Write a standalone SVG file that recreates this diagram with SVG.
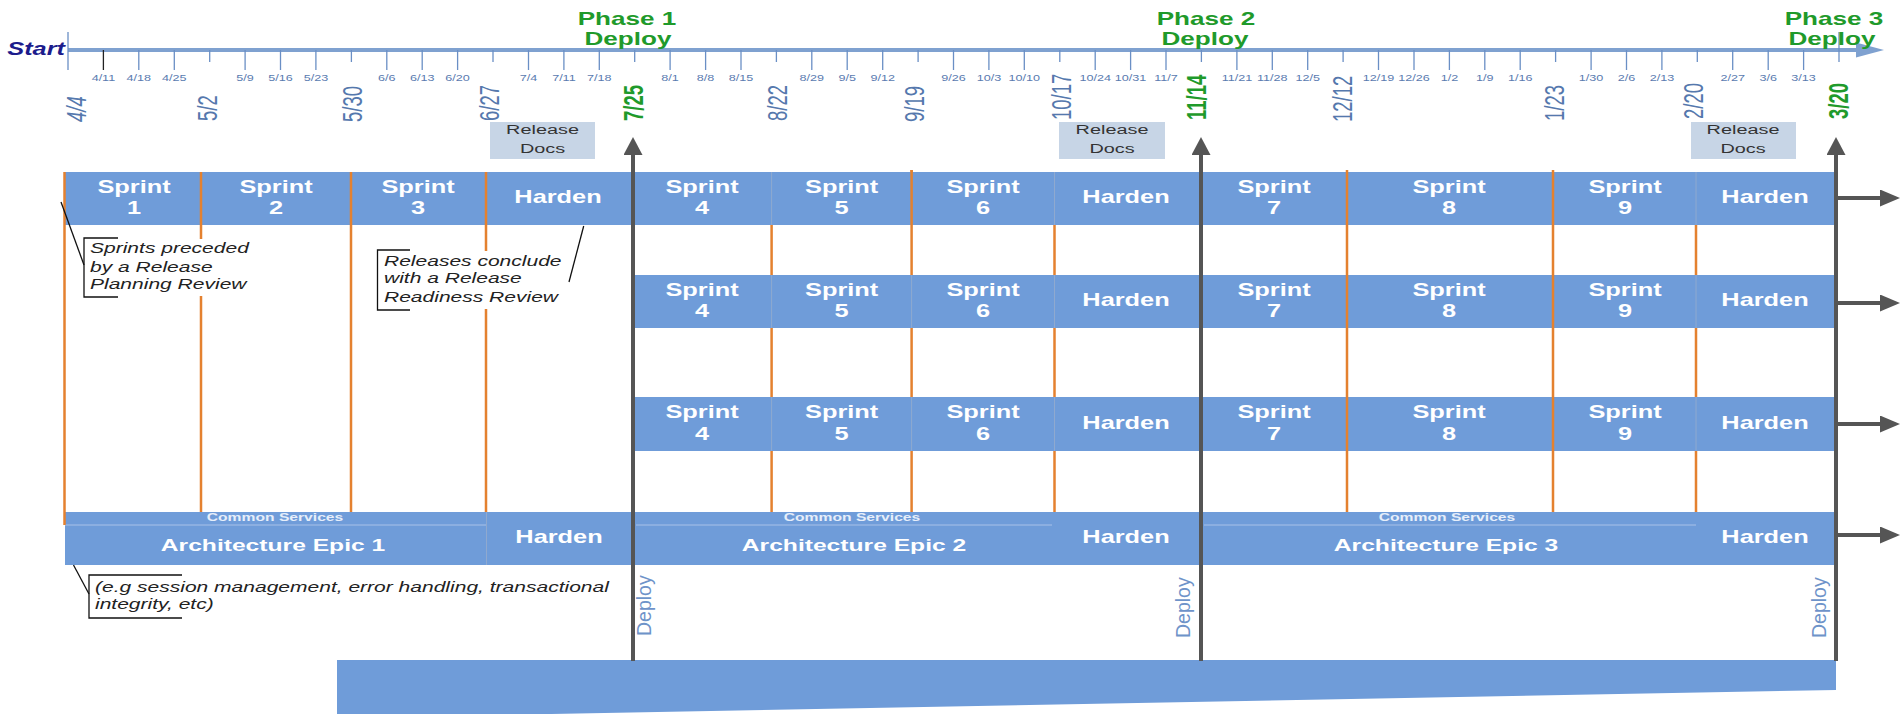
<svg xmlns="http://www.w3.org/2000/svg" width="1901" height="714" viewBox="0 0 1901 714">
<style>
text{font-family:"Liberation Sans",Arial,sans-serif}
.wk{font-size:8.4px;fill:#5a7bb0;text-anchor:middle}
.big{font-size:18.5px;fill:#5578ad}
.bigg{font-size:18.5px;fill:#1f9a2b;font-weight:bold}
.ph{font-size:18px;fill:#1f9a2b;font-weight:bold;text-anchor:middle}
.start{font-size:17.5px;fill:#1c1c8c;font-weight:bold;font-style:italic;text-anchor:end}
.sp{font-size:17.5px;fill:#fff;font-weight:bold;text-anchor:middle}
.ae{font-size:17px;fill:#fff;font-weight:bold;text-anchor:middle}
.cs{font-size:10.8px;fill:#e6eefa;font-weight:bold;text-anchor:middle}
.rd{font-size:13.7px;fill:#333;text-anchor:middle}
.co{font-size:14.5px;fill:#222;font-style:italic}
.dep{font-size:19.5px;fill:#6e93c9}
.row{fill:#6f9cd9}
.rel{fill:#c7d5e6}
.org{stroke:#e4812f;stroke-width:2.5}
.div{stroke:#8fa9cf;stroke-width:1}
.csl{stroke:#a9c1e8;stroke-width:1}
.tk{stroke:#6a8fc5;stroke-width:1.3}
.arr{stroke:#555;stroke-width:4;fill:none}
.cl{stroke:#111;stroke-width:1.3;fill:none}
.cbg{fill:#fff}
</style>
<defs>
<marker id="ahV" markerUnits="userSpaceOnUse" markerWidth="18" markerHeight="19" refX="0" refY="9.5" orient="auto" viewBox="0 0 18 19"><path d="M0,0 L18,9.5 L0,19 Z" fill="#555"/></marker>
<marker id="ahH" markerUnits="userSpaceOnUse" markerWidth="20" markerHeight="17" refX="0" refY="8.5" orient="auto" viewBox="0 0 20 17"><path d="M0,0 L20,8.5 L0,17 Z" fill="#555"/></marker>
<marker id="ahT" markerUnits="userSpaceOnUse" markerWidth="28" markerHeight="15" refX="0" refY="7.5" orient="auto" viewBox="0 0 28 15"><path d="M0,0 L28,7.5 L0,15 Z" fill="#7fa1d0"/></marker>
</defs>

<g id="timeline">
<line x1="68" y1="50" x2="1856" y2="50" stroke="#7fa1d0" stroke-width="4" marker-end="url(#ahT)"/>
<text class="start" transform="translate(65,55) scale(1.45,1)">Start</text>
<g class="tk">
<line x1="68" y1="32" x2="68" y2="70"/>
<line x1="103.4" y1="50" x2="103.4" y2="70" stroke="#222"/>
<line x1="138.8" y1="50" x2="138.8" y2="70"/>
<line x1="174.3" y1="50" x2="174.3" y2="70"/>
<line x1="209.7" y1="50" x2="209.7" y2="62"/>
<line x1="245.1" y1="50" x2="245.1" y2="70"/>
<line x1="280.5" y1="50" x2="280.5" y2="70"/>
<line x1="315.9" y1="50" x2="315.9" y2="70"/>
<line x1="351.4" y1="50" x2="351.4" y2="62"/>
<line x1="386.8" y1="50" x2="386.8" y2="70"/>
<line x1="422.2" y1="50" x2="422.2" y2="70"/>
<line x1="457.6" y1="50" x2="457.6" y2="70"/>
<line x1="493" y1="50" x2="493" y2="62"/>
<line x1="528.5" y1="50" x2="528.5" y2="70"/>
<line x1="563.9" y1="50" x2="563.9" y2="70"/>
<line x1="599.3" y1="50" x2="599.3" y2="70"/>
<line x1="634.7" y1="50" x2="634.7" y2="62"/>
<line x1="670.1" y1="50" x2="670.1" y2="70"/>
<line x1="705.6" y1="50" x2="705.6" y2="70"/>
<line x1="741" y1="50" x2="741" y2="70"/>
<line x1="776.4" y1="50" x2="776.4" y2="62"/>
<line x1="811.8" y1="50" x2="811.8" y2="70"/>
<line x1="847.2" y1="50" x2="847.2" y2="70"/>
<line x1="882.7" y1="50" x2="882.7" y2="70"/>
<line x1="918.1" y1="50" x2="918.1" y2="62"/>
<line x1="953.5" y1="50" x2="953.5" y2="70"/>
<line x1="988.9" y1="50" x2="988.9" y2="70"/>
<line x1="1024.3" y1="50" x2="1024.3" y2="70"/>
<line x1="1059.8" y1="50" x2="1059.8" y2="62"/>
<line x1="1095.2" y1="50" x2="1095.2" y2="70"/>
<line x1="1130.6" y1="50" x2="1130.6" y2="70"/>
<line x1="1166" y1="50" x2="1166" y2="70"/>
<line x1="1201.4" y1="50" x2="1201.4" y2="62"/>
<line x1="1236.9" y1="50" x2="1236.9" y2="70"/>
<line x1="1272.3" y1="50" x2="1272.3" y2="70"/>
<line x1="1307.7" y1="50" x2="1307.7" y2="70"/>
<line x1="1343.1" y1="50" x2="1343.1" y2="62"/>
<line x1="1378.5" y1="50" x2="1378.5" y2="70"/>
<line x1="1414" y1="50" x2="1414" y2="70"/>
<line x1="1449.4" y1="50" x2="1449.4" y2="70"/>
<line x1="1484.8" y1="50" x2="1484.8" y2="70"/>
<line x1="1520.2" y1="50" x2="1520.2" y2="70"/>
<line x1="1555.6" y1="50" x2="1555.6" y2="62"/>
<line x1="1591.1" y1="50" x2="1591.1" y2="70"/>
<line x1="1626.5" y1="50" x2="1626.5" y2="70"/>
<line x1="1661.9" y1="50" x2="1661.9" y2="70"/>
<line x1="1697.3" y1="50" x2="1697.3" y2="62"/>
<line x1="1732.7" y1="50" x2="1732.7" y2="70"/>
<line x1="1768.2" y1="50" x2="1768.2" y2="70"/>
<line x1="1803.6" y1="50" x2="1803.6" y2="70"/>
<line x1="1839" y1="32" x2="1839" y2="62"/>
</g>
<g>
<text class="wk" transform="translate(103.4,81) scale(1.5,1)">4/11</text>
<text class="wk" transform="translate(138.8,81) scale(1.5,1)">4/18</text>
<text class="wk" transform="translate(174.3,81) scale(1.5,1)">4/25</text>
<text class="wk" transform="translate(245.1,81) scale(1.5,1)">5/9</text>
<text class="wk" transform="translate(280.5,81) scale(1.5,1)">5/16</text>
<text class="wk" transform="translate(315.9,81) scale(1.5,1)">5/23</text>
<text class="wk" transform="translate(386.8,81) scale(1.5,1)">6/6</text>
<text class="wk" transform="translate(422.2,81) scale(1.5,1)">6/13</text>
<text class="wk" transform="translate(457.6,81) scale(1.5,1)">6/20</text>
<text class="wk" transform="translate(528.5,81) scale(1.5,1)">7/4</text>
<text class="wk" transform="translate(563.9,81) scale(1.5,1)">7/11</text>
<text class="wk" transform="translate(599.3,81) scale(1.5,1)">7/18</text>
<text class="wk" transform="translate(670.1,81) scale(1.5,1)">8/1</text>
<text class="wk" transform="translate(705.6,81) scale(1.5,1)">8/8</text>
<text class="wk" transform="translate(741,81) scale(1.5,1)">8/15</text>
<text class="wk" transform="translate(811.8,81) scale(1.5,1)">8/29</text>
<text class="wk" transform="translate(847.2,81) scale(1.5,1)">9/5</text>
<text class="wk" transform="translate(882.7,81) scale(1.5,1)">9/12</text>
<text class="wk" transform="translate(953.5,81) scale(1.5,1)">9/26</text>
<text class="wk" transform="translate(988.9,81) scale(1.5,1)">10/3</text>
<text class="wk" transform="translate(1024.3,81) scale(1.5,1)">10/10</text>
<text class="wk" transform="translate(1095.2,81) scale(1.5,1)">10/24</text>
<text class="wk" transform="translate(1130.6,81) scale(1.5,1)">10/31</text>
<text class="wk" transform="translate(1166,81) scale(1.5,1)">11/7</text>
<text class="wk" transform="translate(1236.9,81) scale(1.5,1)">11/21</text>
<text class="wk" transform="translate(1272.3,81) scale(1.5,1)">11/28</text>
<text class="wk" transform="translate(1307.7,81) scale(1.5,1)">12/5</text>
<text class="wk" transform="translate(1378.5,81) scale(1.5,1)">12/19</text>
<text class="wk" transform="translate(1414,81) scale(1.5,1)">12/26</text>
<text class="wk" transform="translate(1449.4,81) scale(1.5,1)">1/2</text>
<text class="wk" transform="translate(1484.8,81) scale(1.5,1)">1/9</text>
<text class="wk" transform="translate(1520.2,81) scale(1.5,1)">1/16</text>
<text class="wk" transform="translate(1591.1,81) scale(1.5,1)">1/30</text>
<text class="wk" transform="translate(1626.5,81) scale(1.5,1)">2/6</text>
<text class="wk" transform="translate(1661.9,81) scale(1.5,1)">2/13</text>
<text class="wk" transform="translate(1732.7,81) scale(1.5,1)">2/27</text>
<text class="wk" transform="translate(1768.2,81) scale(1.5,1)">3/6</text>
<text class="wk" transform="translate(1803.6,81) scale(1.5,1)">3/13</text>
</g>
<g>
<text class="big" font-style="italic" transform="translate(86,122) scale(1.5,1) rotate(-90)">4/4</text>
<text class="big" transform="translate(217,121) scale(1.5,1) rotate(-90)">5/2</text>
<text class="big" transform="translate(362,122) scale(1.5,1) rotate(-90)">5/30</text>
<text class="big" transform="translate(499,121) scale(1.5,1) rotate(-90)">6/27</text>
<text class="bigg" transform="translate(643,121) scale(1.5,1) rotate(-90)">7/25</text>
<text class="big" transform="translate(787,121) scale(1.5,1) rotate(-90)">8/22</text>
<text class="big" transform="translate(924,122) scale(1.5,1) rotate(-90)">9/19</text>
<text class="big" transform="translate(1071,120) scale(1.5,1) rotate(-90)">10/17</text>
<text class="bigg" transform="translate(1205.5,120) scale(1.5,1) rotate(-90)">11/14</text>
<text class="big" transform="translate(1352,122) scale(1.5,1) rotate(-90)">12/12</text>
<text class="big" transform="translate(1564,121) scale(1.5,1) rotate(-90)">1/23</text>
<text class="big" transform="translate(1703,119) scale(1.5,1) rotate(-90)">2/20</text>
<text class="bigg" transform="translate(1848,119) scale(1.5,1) rotate(-90)">3/20</text>
</g>
</g>

<g id="phase1-label"><text class="ph" transform="translate(627,25) scale(1.45,1)">Phase 1</text><text class="ph" transform="translate(628,45) scale(1.45,1)">Deploy</text></g>
<g id="phase2-label"><text class="ph" transform="translate(1206,25) scale(1.45,1)">Phase 2</text><text class="ph" transform="translate(1205,45) scale(1.45,1)">Deploy</text></g>
<g id="phase3-label"><text class="ph" transform="translate(1834,25) scale(1.45,1)">Phase 3</text><text class="ph" transform="translate(1832,45) scale(1.45,1)">Deploy</text></g>

<g id="release-docs-1"><rect class="rel" x="490" y="122" width="105" height="37"/><text class="rd" transform="translate(542.5,134) scale(1.45,1)">Release</text><text class="rd" transform="translate(542.5,153) scale(1.45,1)">Docs</text></g>
<g id="release-docs-2"><rect class="rel" x="1059" y="122" width="106" height="37"/><text class="rd" transform="translate(1112,134) scale(1.45,1)">Release</text><text class="rd" transform="translate(1112,153) scale(1.45,1)">Docs</text></g>
<g id="release-docs-3"><rect class="rel" x="1691" y="122" width="105" height="37"/><text class="rd" transform="translate(1743,134) scale(1.45,1)">Release</text><text class="rd" transform="translate(1743,153) scale(1.45,1)">Docs</text></g>

<g id="orange-back" class="org">
<line x1="771.6" y1="225" x2="771.6" y2="512"/>
<line x1="911.6" y1="170" x2="911.6" y2="512"/>
<line x1="1054.5" y1="225" x2="1054.5" y2="512"/>
<line x1="1696" y1="225" x2="1696" y2="512"/>
</g>

<g id="bottom-bar"><polygon class="row" points="337,660 1836,660 1836,690 337,718"/></g>

<g id="phase1-row1">
<rect class="row" x="65" y="172" width="568" height="53"/>
<text class="sp" transform="translate(134,193) scale(1.45,1)">Sprint</text><text class="sp" transform="translate(134,214) scale(1.45,1)">1</text>
<text class="sp" transform="translate(276,193) scale(1.45,1)">Sprint</text><text class="sp" transform="translate(276,214) scale(1.45,1)">2</text>
<text class="sp" transform="translate(418,193) scale(1.45,1)">Sprint</text><text class="sp" transform="translate(418,214) scale(1.45,1)">3</text>
<text class="sp" transform="translate(558,203) scale(1.45,1)">Harden</text>
</g>

<g id="phase2-row1">
<rect class="row" x="633" y="172" width="568" height="53"/>
<line class="div" x1="771.6" y1="172" x2="771.6" y2="225"/><line class="div" x1="1054.5" y1="172" x2="1054.5" y2="225"/>
<line class="org" x1="911.6" y1="170" x2="911.6" y2="225"/>
<text class="sp" transform="translate(702,193) scale(1.45,1)">Sprint</text><text class="sp" transform="translate(702,214) scale(1.45,1)">4</text>
<text class="sp" transform="translate(841.6,193) scale(1.45,1)">Sprint</text><text class="sp" transform="translate(841.6,214) scale(1.45,1)">5</text>
<text class="sp" transform="translate(983,193) scale(1.45,1)">Sprint</text><text class="sp" transform="translate(983,214) scale(1.45,1)">6</text>
<text class="sp" transform="translate(1126,203) scale(1.45,1)">Harden</text>
</g>
<g id="phase2-row2">
<rect class="row" x="633" y="275" width="568" height="53"/>
<line class="div" x1="771.6" y1="275" x2="771.6" y2="328"/><line class="div" x1="911.6" y1="275" x2="911.6" y2="328"/><line class="div" x1="1054.5" y1="275" x2="1054.5" y2="328"/>
<text class="sp" transform="translate(702,296) scale(1.45,1)">Sprint</text><text class="sp" transform="translate(702,317) scale(1.45,1)">4</text>
<text class="sp" transform="translate(841.6,296) scale(1.45,1)">Sprint</text><text class="sp" transform="translate(841.6,317) scale(1.45,1)">5</text>
<text class="sp" transform="translate(983,296) scale(1.45,1)">Sprint</text><text class="sp" transform="translate(983,317) scale(1.45,1)">6</text>
<text class="sp" transform="translate(1126,306) scale(1.45,1)">Harden</text>
</g>
<g id="phase2-row3">
<rect class="row" x="633" y="397" width="568" height="54"/>
<line class="div" x1="771.6" y1="397" x2="771.6" y2="451"/><line class="div" x1="911.6" y1="397" x2="911.6" y2="451"/><line class="div" x1="1054.5" y1="397" x2="1054.5" y2="451"/>
<text class="sp" transform="translate(702,418) scale(1.45,1)">Sprint</text><text class="sp" transform="translate(702,440) scale(1.45,1)">4</text>
<text class="sp" transform="translate(841.6,418) scale(1.45,1)">Sprint</text><text class="sp" transform="translate(841.6,440) scale(1.45,1)">5</text>
<text class="sp" transform="translate(983,418) scale(1.45,1)">Sprint</text><text class="sp" transform="translate(983,440) scale(1.45,1)">6</text>
<text class="sp" transform="translate(1126,429) scale(1.45,1)">Harden</text>
</g>

<g id="phase3-row1">
<rect class="row" x="1201" y="172" width="635" height="53"/>
<line class="div" x1="1696" y1="172" x2="1696" y2="225"/>
<text class="sp" transform="translate(1274,193) scale(1.45,1)">Sprint</text><text class="sp" transform="translate(1274,214) scale(1.45,1)">7</text>
<text class="sp" transform="translate(1449,193) scale(1.45,1)">Sprint</text><text class="sp" transform="translate(1449,214) scale(1.45,1)">8</text>
<text class="sp" transform="translate(1625,193) scale(1.45,1)">Sprint</text><text class="sp" transform="translate(1625,214) scale(1.45,1)">9</text>
<text class="sp" transform="translate(1765,203) scale(1.45,1)">Harden</text>
</g>
<g id="phase3-row2">
<rect class="row" x="1201" y="275" width="635" height="53"/>
<line class="div" x1="1696" y1="275" x2="1696" y2="328"/>
<text class="sp" transform="translate(1274,296) scale(1.45,1)">Sprint</text><text class="sp" transform="translate(1274,317) scale(1.45,1)">7</text>
<text class="sp" transform="translate(1449,296) scale(1.45,1)">Sprint</text><text class="sp" transform="translate(1449,317) scale(1.45,1)">8</text>
<text class="sp" transform="translate(1625,296) scale(1.45,1)">Sprint</text><text class="sp" transform="translate(1625,317) scale(1.45,1)">9</text>
<text class="sp" transform="translate(1765,306) scale(1.45,1)">Harden</text>
</g>
<g id="phase3-row3">
<rect class="row" x="1201" y="397" width="635" height="54"/>
<line class="div" x1="1696" y1="397" x2="1696" y2="451"/>
<text class="sp" transform="translate(1274,418) scale(1.45,1)">Sprint</text><text class="sp" transform="translate(1274,440) scale(1.45,1)">7</text>
<text class="sp" transform="translate(1449,418) scale(1.45,1)">Sprint</text><text class="sp" transform="translate(1449,440) scale(1.45,1)">8</text>
<text class="sp" transform="translate(1625,418) scale(1.45,1)">Sprint</text><text class="sp" transform="translate(1625,440) scale(1.45,1)">9</text>
<text class="sp" transform="translate(1765,429) scale(1.45,1)">Harden</text>
</g>

<g id="arch-epic-1">
<rect class="row" x="65" y="512" width="568" height="53"/>
<line class="csl" x1="65" y1="525" x2="486" y2="525"/>
<line class="div" x1="486.5" y1="512" x2="486.5" y2="565"/>
<text class="cs" transform="translate(275,520.5) scale(1.45,1)">Common Services</text>
<text class="ae" transform="translate(273,551) scale(1.45,1)">Architecture Epic 1</text>
<text class="sp" transform="translate(559,543) scale(1.45,1)">Harden</text>
</g>
<g id="arch-epic-2">
<rect class="row" x="633" y="512" width="568" height="53"/>
<line class="csl" x1="636" y1="525" x2="1052" y2="525"/>
<text class="cs" transform="translate(852,520.5) scale(1.45,1)">Common Services</text>
<text class="ae" transform="translate(854,551) scale(1.45,1)">Architecture Epic 2</text>
<text class="sp" transform="translate(1126,543) scale(1.45,1)">Harden</text>
</g>
<g id="arch-epic-3">
<rect class="row" x="1201" y="512" width="635" height="53"/>
<line class="csl" x1="1204" y1="525" x2="1696" y2="525"/>
<text class="cs" transform="translate(1447,520.5) scale(1.45,1)">Common Services</text>
<text class="ae" transform="translate(1446,551) scale(1.45,1)">Architecture Epic 3</text>
<text class="sp" transform="translate(1765,543) scale(1.45,1)">Harden</text>
</g>

<g id="orange-front" class="org">
<line x1="64.5" y1="172" x2="64.5" y2="525"/>
<line x1="201" y1="172" x2="201" y2="512"/>
<line x1="351" y1="172" x2="351" y2="512"/>
<line x1="486" y1="172" x2="486" y2="512"/>
<line x1="1347" y1="170" x2="1347" y2="512"/>
<line x1="1553" y1="170" x2="1553" y2="512"/>
</g>

<g id="callout-planning">
<rect class="cbg" x="85" y="239" width="165" height="57"/>
<path class="cl" d="M118,238 H84 V297 H118"/>
<text class="co" transform="translate(90,253) scale(1.45,1)">Sprints preceded</text>
<text class="co" transform="translate(90,272) scale(1.45,1)">by a Release</text>
<text class="co" transform="translate(90,289) scale(1.45,1)">Planning Review</text>
</g>
<g id="callout-readiness">
<rect class="cbg" x="378" y="251" width="195" height="58"/>
<path class="cl" d="M410,250 H377.5 V310 H410"/>
<text class="co" transform="translate(384,266) scale(1.45,1)">Releases conclude</text>
<text class="co" transform="translate(384,283) scale(1.45,1)">with a Release</text>
<text class="co" transform="translate(384,302) scale(1.45,1)">Readiness Review</text>
</g>
<g id="callout-services">
<rect class="cbg" x="90" y="576" width="522" height="41"/>
<path class="cl" d="M182,575 H89 V618 H182"/>
<text class="co" transform="translate(95,592) scale(1.45,1)">(e.g session management, error handling, transactional</text>
<text class="co" transform="translate(95,609) scale(1.45,1)">integrity, etc)</text>
</g>

<g id="deploy-labels">
<text class="dep" transform="translate(651,636) rotate(-90)">Deploy</text>
<text class="dep" transform="translate(1190,638) rotate(-90)">Deploy</text>
<text class="dep" transform="translate(1826,638) rotate(-90)">Deploy</text>
</g>

<g id="connectors">
<line class="cl" x1="61" y1="202" x2="84" y2="265"/>
<line class="cl" x1="583.7" y1="226" x2="569" y2="282"/>
<line class="cl" x1="73.5" y1="565" x2="89" y2="594"/>
<line class="arr" x1="633" y1="661" x2="633" y2="155" marker-end="url(#ahV)"/>
<line class="arr" x1="1201" y1="661" x2="1201" y2="155" marker-end="url(#ahV)"/>
<line class="arr" x1="1836" y1="661" x2="1836" y2="155" marker-end="url(#ahV)"/>
<line class="arr" x1="1836" y1="198" x2="1880" y2="198" marker-end="url(#ahH)"/>
<line class="arr" x1="1836" y1="303" x2="1880" y2="303" marker-end="url(#ahH)"/>
<line class="arr" x1="1836" y1="424" x2="1880" y2="424" marker-end="url(#ahH)"/>
<line class="arr" x1="1836" y1="535" x2="1880" y2="535" marker-end="url(#ahH)"/>
</g>
</svg>
